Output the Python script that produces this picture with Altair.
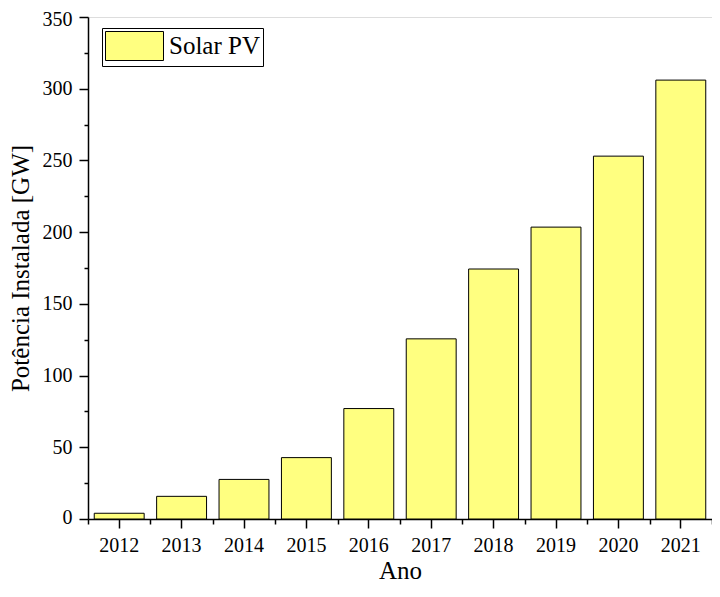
import altair as alt
import pandas as pd

anos = ["2012", "2013", "2014", "2015", "2016", "2017", "2018", "2019", "2020", "2021"]
potencia = [4.0, 15.8, 27.6, 42.8, 77.0, 125.6, 174.3, 203.5, 253.0, 306.0]
serie = "Solar PV"

df = pd.DataFrame({"ano": anos, "potencia": potencia, "serie": [serie] * len(anos)})

FONT = "Liberation Serif"

xscale = alt.Scale(paddingInner=0.2, paddingOuter=0.1)
xscale_minor = alt.Scale(paddingInner=0, paddingOuter=0)
yscale = alt.Scale(domain=[0, 350], nice=False)

major_x = alt.Axis(
    title="Ano", orient="bottom", labelAngle=0, tickSize=9, tickWidth=1.5, tickColor="black",
    domainColor="black", domainWidth=1.5, labelFont=FONT, labelFontSize=20,
    labelColor="black", labelPadding=7, titleFont=FONT, titleFontSize=25,
    titleFontWeight="normal", titleColor="black", titlePadding=3, grid=False,
)
minor_x = alt.Axis(
    title=None, labels=False, domain=False, tickSize=5, tickWidth=1.5,
    tickColor="black", tickBand="extent", grid=False, orient="bottom",
)
major_y = alt.Axis(
    title="Potência Instalada [GW]", orient="left", values=list(range(0, 351, 50)), tickSize=9,
    tickWidth=1.5, tickColor="black", domainColor="black", domainWidth=1.5,
    labelFont=FONT, labelFontSize=20, labelColor="black", labelPadding=7,
    labelFlush=True, labelFlushOffset=8,
    titleFont=FONT, titleFontSize=25, titleFontWeight="normal", titleColor="black",
    titlePadding=9, grid=False,
)
minor_y = alt.Axis(
    title=None, labels=False, domain=False, values=list(range(25, 350, 50)),
    tickSize=4, tickWidth=1.5, tickColor="black", grid=False, orient="left",
)

base = alt.Chart(df)

minor = base.mark_bar(opacity=0).encode(
    x=alt.X("ano:O", axis=minor_x, scale=xscale_minor),
    y=alt.Y("potencia:Q", axis=minor_y, scale=yscale),
)

bars = base.mark_bar(stroke="black", strokeWidth=1).encode(
    x=alt.X("ano:O", axis=major_x, scale=xscale),
    y=alt.Y("potencia:Q", axis=major_y, scale=yscale),
    color=alt.Color(
        "serie:N",
        scale=alt.Scale(domain=[serie], range=["#FFFF80"]),
        legend=alt.Legend(
            title=None, orient="none", legendX=14, legendY=11,
            symbolType="M-1,-1L3,-1L3,1L-1,1Z", symbolSize=841,
            symbolStrokeColor="black", symbolStrokeWidth=1, symbolOpacity=1,
            labelFont=FONT, labelFontSize=25, labelColor="black", labelOffset=34,
            padding=3, strokeColor="black", fillColor="white",
        ),
    ),
)

chart = (
    alt.layer(minor, bars)
    .resolve_scale(x="independent")
    .resolve_axis(x="independent", y="independent")
    .properties(
        width=624, height=502,
        autosize=alt.AutoSizeParams(type="none"),
        padding={"left": 80, "top": 9, "right": 0, "bottom": 65},
    )
    .configure_view(stroke="black", strokeWidth=1.5)
    .configure(background="white")
)

chart.save("out.html", embed_options={"renderer": "svg", "actions": False})
